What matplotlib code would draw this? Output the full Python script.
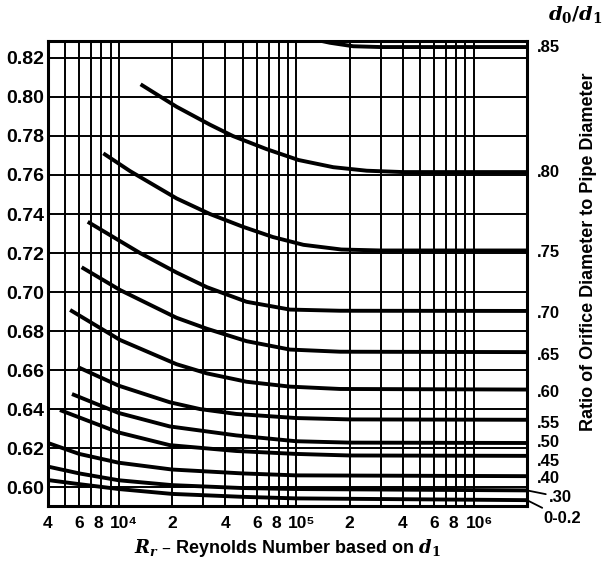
import matplotlib.pyplot as plt
from matplotlib.ticker import FixedLocator, FixedFormatter, LogLocator, NullFormatter
from matplotlib.transforms import ScaledTranslation

plt.rcParams['font.family'] = ['Liberation Sans', 'DejaVu Sans']
plt.rcParams['font.weight'] = 'bold'
plt.rcParams['mathtext.fontset'] = 'dejavuserif'

# Kurven: Reynoldszahl -> Durchflusskoeffizient, je Durchmesserverhältnis
re_85 = [1.2e5, 1.55e5, 2.1e5, 3e5, 2e6]
cd_85 = [0.8300, 0.8278, 0.8260, 0.8256, 0.8256]

re_80 = [1.33e4, 2.12e4, 3.27e4, 4.4e4, 6.8e4, 1.03e5, 1.62e5, 2.5e5, 4e5, 2e6]
cd_80 = [0.8065, 0.7950, 0.7858, 0.7800, 0.7733, 0.7677, 0.7640, 0.7622, 0.7615, 0.7615]

re_75 = [8.2e3, 1.16e4, 2.12e4, 3.27e4, 5e4, 7.4e4, 1.1e5, 1.8e5, 3e5, 2e6]
cd_75 = [0.7711, 0.7620, 0.7480, 0.7400, 0.7335, 0.7282, 0.7242, 0.7218, 0.7213, 0.7213]

re_70 = [6.7e3, 1.32e4, 2.12e4, 3.14e4, 5.26e4, 9.24e4, 1.77e5, 2e6]
cd_70 = [0.7360, 0.7200, 0.7100, 0.7025, 0.6950, 0.6910, 0.6904, 0.6903]

re_65 = [6.19e3, 1.02e4, 2.12e4, 3.14e4, 5.26e4, 9.24e4, 1.77e5, 2e6]
cd_65 = [0.7127, 0.7010, 0.6868, 0.6812, 0.6748, 0.6705, 0.6694, 0.6692]

re_60 = [5.33e3, 1.02e4, 2.12e4, 3.14e4, 5.26e4, 9.24e4, 1.77e5, 2e6]
cd_60 = [0.6908, 0.6754, 0.6630, 0.6583, 0.6540, 0.6515, 0.6503, 0.6500]

re_55 = [5.9e3, 1e4, 1.94e4, 2.87e4, 4.6e4, 1e5, 2e5, 2e6]
cd_55 = [0.6615, 0.6520, 0.6435, 0.6400, 0.6375, 0.6354, 0.6347, 0.6345]

re_50 = [5.46e3, 1e4, 1.94e4, 4.6e4, 1e5, 2e5, 2e6]
cd_50 = [0.6477, 0.6380, 0.6311, 0.6265, 0.6235, 0.6228, 0.6226]

re_45 = [4.67e3, 1e4, 1.94e4, 4.6e4, 1e5, 2e5, 2e6]
cd_45 = [0.6395, 0.6280, 0.6215, 0.6185, 0.6170, 0.6162, 0.6160]

re_40 = [4e3, 6e3, 1e4, 2e4, 5e4, 1e5, 2e6]
cd_40 = [0.6226, 0.6170, 0.6125, 0.6090, 0.6070, 0.6060, 0.6056]

re_30 = [4e3, 6e3, 1e4, 2e4, 5e4, 1e5, 2e6]
cd_30 = [0.6105, 0.6070, 0.6035, 0.6010, 0.5995, 0.5990, 0.5983]

re_02 = [4e3, 6e3, 1e4, 2e4, 5e4, 1e5, 2e6]
cd_02 = [0.6036, 0.6015, 0.5990, 0.5965, 0.5950, 0.5942, 0.5933]

# Beschriftung rechts: Text und Höhe
ratio_labels = ['.85', '.80', '.75', '.70', '.65', '.60', '.55', '.50', '.45', '.40']
ratio_label_y = [0.8256, 0.7615, 0.7205, 0.6892, 0.6677, 0.6487, 0.6328, 0.6226, 0.6133, 0.6046]

x_ticks = [4e3, 6e3, 8e3, 1e4, 2e4, 4e4, 6e4, 8e4, 1e5, 2e5, 4e5, 6e5, 8e5, 1e6]
x_tick_labels = ['4', '6', '8', '10⁴', '2', '4', '6', '8', '10⁵', '2', '4', '6', '8', '10⁶']
y_ticks = [0.60, 0.62, 0.64, 0.66, 0.68, 0.70, 0.72, 0.74, 0.76, 0.78, 0.80, 0.82]

fig = plt.figure(figsize=(6.05, 5.77), dpi=100)
ax = fig.add_axes([48 / 605, 1 - 506 / 577, 479 / 605, 465 / 577])
ax.set_xscale('log')
ax.set_xlim(4e3, 2e6)
ax.set_ylim(0.5903, 0.8287)

# Gitter
ax.xaxis.set_major_locator(FixedLocator(x_ticks))
ax.xaxis.set_major_formatter(FixedFormatter(x_tick_labels))
ax.xaxis.set_minor_locator(LogLocator(base=10, subs=range(2, 10)))
ax.xaxis.set_minor_formatter(NullFormatter())
ax.set_yticks(y_ticks)
ax.set_yticklabels([f'{v:.2f}' for v in y_ticks])
ax.grid(True, which='both', axis='x', color='black', lw=1.4)
ax.grid(True, which='major', axis='y', color='black', lw=1.4)
ax.tick_params(axis='y', length=0, labelsize=14, pad=3)
ax.tick_params(axis='x', which='both', length=0, labelsize=12.5, pad=7)
for s in ax.spines.values():
    s.set_linewidth(2.2)

# 10^n etwas nach rechts, 8 etwas nach links, damit nichts überlappt
for lbl in ax.get_xticklabels():
    if lbl.get_text().startswith('10'):
        lbl.set_transform(lbl.get_transform() + ScaledTranslation(4 / 72, 0, fig.dpi_scale_trans))
    elif lbl.get_text() == '8':
        lbl.set_transform(lbl.get_transform() + ScaledTranslation(-2 / 72, 0, fig.dpi_scale_trans))

# Kurven
for re, cd in [(re_85, cd_85), (re_80, cd_80), (re_75, cd_75), (re_70, cd_70),
               (re_65, cd_65), (re_60, cd_60), (re_55, cd_55), (re_50, cd_50),
               (re_45, cd_45), (re_40, cd_40), (re_30, cd_30), (re_02, cd_02)]:
    ax.plot(re, cd, color='black', lw=2.8, solid_capstyle='butt')

for lab, yv in zip(ratio_labels, ratio_label_y):
    ax.annotate(lab, xy=(1, yv), xycoords=('axes fraction', 'data'),
                xytext=(7, 0), textcoords='offset points', va='center', fontsize=12)

# Sonderfälle mit Hinweislinie
ax.annotate('.30', xy=(1, cd_30[-1]), xycoords=('axes fraction', 'data'),
            xytext=(1.045, 0.5949), textcoords=('axes fraction', 'data'),
            va='center', fontsize=12,
            arrowprops=dict(arrowstyle='-', lw=1.3, color='black', shrinkA=0, shrinkB=0))
ax.annotate('0-0.2', xy=(1, cd_02[-1]), xycoords=('axes fraction', 'data'),
            xytext=(1.035, 0.5841), textcoords=('axes fraction', 'data'),
            va='center', fontsize=12,
            arrowprops=dict(arrowstyle='-', lw=1.3, color='black', shrinkA=0, shrinkB=0))

fig.text(0.905, 0.965, r'$d_0/d_1$', fontsize=14)
fig.text(0.972, 0.563, 'Ratio of Orifice Diameter to Pipe Diameter',
         rotation=90, va='center', ha='center', fontsize=13)
fig.text(0.475, 0.05, r'$R_r$ – Reynolds Number based on $d_1$',
         ha='center', va='center', fontsize=13)

fig.savefig('out.png', dpi=100)
